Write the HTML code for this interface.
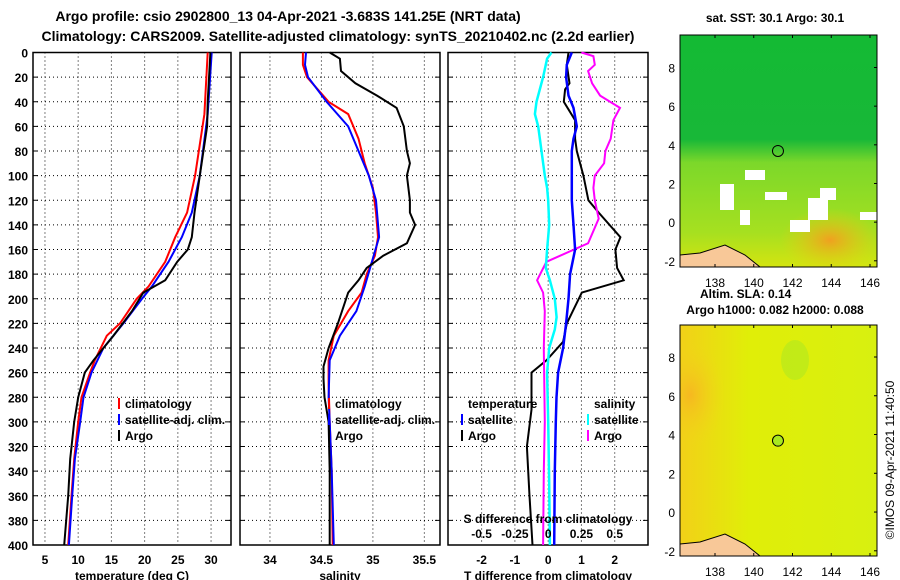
<!DOCTYPE html>
<html><head><meta charset="utf-8"><style>
body{margin:0;background:#fff}
svg{display:block;font-family:"Liberation Sans",Arial,sans-serif;font-weight:bold}
</style></head><body>
<svg id="c" width="900" height="580" viewBox="0 0 900 580">
<defs>
<linearGradient id="sstg" x1="0" y1="0" x2="0" y2="1">
<stop offset="0" stop-color="#14ba34"/><stop offset="0.45" stop-color="#18b838"/><stop offset="0.55" stop-color="#7cd82a"/><stop offset="0.85" stop-color="#a6e020"/><stop offset="1" stop-color="#d4e410"/></linearGradient>
<radialGradient id="orng" cx="0.5" cy="0.5" r="0.5"><stop offset="0" stop-color="#f0a020"/><stop offset="1" stop-color="#e8d010" stop-opacity="0"/></radialGradient>
<radialGradient id="orng2" cx="0.5" cy="0.5" r="0.5"><stop offset="0" stop-color="#f6b820"/><stop offset="1" stop-color="#f0d818" stop-opacity="0"/></radialGradient>
<linearGradient id="slag" x1="0" y1="0" x2="1" y2="0"><stop offset="0" stop-color="#f2d018"/><stop offset="0.35" stop-color="#e0ee08"/><stop offset="1" stop-color="#d8f010"/></linearGradient>
<clipPath id="clipTop"><rect x="680" y="35" width="197" height="232"/></clipPath>
<clipPath id="clipBot"><rect x="680" y="325" width="197" height="231"/></clipPath>
</defs>
<g font-size="14" text-anchor="middle">
<text x="288" y="21">Argo profile: csio 2902800_13 04-Apr-2021 -3.683S 141.25E (NRT data)</text>
<text x="338" y="41">Climatology: CARS2009. Satellite-adjusted climatology: synTS_20210402.nc (2.2d earlier)</text>
</g>
<g id="plots"></g>
<g id="maps"></g>
<text transform="translate(894,460) rotate(-90)" text-anchor="middle" font-size="12" font-weight="normal">©IMOS 09-Apr-2021 11:40:50</text>
</svg>
<script>
const tDepth=[0,50,100,130,150,170,190,200,220,230,250,260,280,300,330,360,400];
const tClim=[29.5,29.0,27.6,26.4,24.6,23.1,20.6,18.8,16.3,14.3,12.5,11.8,10.5,10.0,9.4,9.0,8.5];
const tSatDepth=[0,50,100,130,150,170,190,200,220,240,260,280,300,330,360,400];
const tSat=[30.1,29.5,28.3,27.1,25.6,23.6,21.1,19.6,16.8,13.8,12.0,10.8,10.3,9.5,9.1,8.6];
const tArgoDepth=[0,40,60,100,130,150,160,170,185,195,210,230,250,260,280,300,330,360,400];
const tArgo=[29.9,29.5,29.4,28.3,27.5,27.1,26.5,24.9,23.1,19.8,18.1,15.3,12.3,11.0,10.0,9.4,8.8,8.5,7.9];
const sClimDepth=[0,10,20,40,50,70,90,110,130,150,165,180,195,210,230,250,270,300,340,400];
const sClim=[34.32,34.32,34.36,34.57,34.76,34.86,34.92,35.0,35.03,35.05,35.02,34.94,34.89,34.76,34.62,34.57,34.57,34.58,34.6,34.61];
const sSatDepth=[0,10,20,40,60,80,100,120,150,170,190,210,230,250,280,300,340,400];
const sSat=[34.35,34.34,34.37,34.55,34.76,34.86,34.96,35.03,35.06,34.99,34.92,34.84,34.68,34.58,34.57,34.58,34.6,34.62];
const sArgoDepth=[0,5,15,25,35,45,60,80,90,100,120,130,140,155,165,175,185,195,220,240,255,265,280,300,340,400];
const sArgo=[34.58,34.68,34.69,34.83,35.04,35.23,35.3,35.33,35.36,35.33,35.36,35.36,35.41,35.33,35.1,34.94,34.86,34.76,34.66,34.57,34.52,34.52,34.53,34.57,34.58,34.58];
const dTSatDepth=[0,10,20,35,45,60,70,80,100,120,140,160,180,200,220,240,260,280,300,340,400];
const dTSat=[0.71,0.56,0.54,0.61,0.76,0.86,0.76,0.71,0.71,0.71,0.76,0.81,0.66,0.61,0.54,0.45,0.30,0.25,0.23,0.2,0.18];
const dTArgoDepth=[0,10,25,30,40,55,70,80,100,120,130,150,160,175,185,195,220,235,250,260,290,320,360,400];
const dTArgo=[0.61,0.56,0.64,0.51,0.47,0.81,0.81,0.86,1.06,1.21,1.52,2.17,2.02,2.07,2.27,1.01,0.56,0.45,-0.05,-0.5,-0.5,-0.64,-0.56,-0.47];
const dSSatDepth=[0,5,20,40,50,60,80,100,110,120,140,160,175,185,200,215,225,240,260,300,350,400];
const dSSat=[0.025,-0.008,-0.038,-0.088,-0.1,-0.075,-0.05,-0.025,-0.008,0,0.008,-0.008,-0.018,0.013,0.05,0.063,0.05,0.008,-0.008,0,0.008,0.013];
const dSArgoDepth=[0,3,10,15,25,35,45,55,70,80,90,100,110,120,135,155,170,185,195,210,240,300,340,400];
const dSArgo=[0.25,0.34,0.35,0.30,0.33,0.39,0.54,0.49,0.47,0.43,0.42,0.35,0.34,0.35,0.38,0.30,-0.013,-0.083,-0.038,-0.025,-0.033,-0.025,-0.033,-0.038];
const depthTicks=[0,20,40,60,80,100,120,140,160,180,200,220,240,260,280,300,320,340,360,380,400];
const tTicks=[5,10,15,20,25,30];
const sTicks=[34,34.5,35,35.5];
const dTicks=[-2,-1,0,1,2];
const dSTicks=[-0.5,-0.25,0,0.25,0.5];
const lonTicks=[138,140,142,144,146];
const latTicks=[-2,0,2,4,6,8];

const NS='http://www.w3.org/2000/svg';
function mk(tag,attrs,parent,txt){const e=document.createElementNS(NS,tag);for(const k in attrs)e.setAttribute(k,attrs[k]);if(txt!==undefined)e.textContent=txt;parent.appendChild(e);return e;}
const plots=document.getElementById('plots');
const YT=52.5,YB=545;
const Y=d=>YT+d*(YB-YT)/400;
const panels=[
 {x0:33,x1:231,v0:3.2,v1:33,name:'temperature',ticks:tTicks,lab:'temperature (deg C)'},
 {x0:240,x1:440,v0:33.709,v1:35.652,name:'salinity',ticks:sTicks,lab:'salinity'},
 {x0:448,x1:648,v0:-3.01,v1:3.0,name:'difference',ticks:dTicks,lab:'T difference from climatology'}];
panels.forEach(p=>{p.X=v=>p.x0+(v-p.v0)/(p.v1-p.v0)*(p.x1-p.x0);});
panels.forEach((p,i)=>{
 const g=mk('g',{},plots);
 
 
 depthTicks.forEach(d=>{if(d>0&&d<400){const l=mk('line',{x1:p.x0,x2:p.x1,y1:Y(d),y2:Y(d),stroke:'#000','stroke-dasharray':'1,3'},g);}
  mk('line',{x1:p.x0,x2:p.x0+5,y1:Y(d),y2:Y(d),stroke:'#000'},g);mk('line',{x1:p.x1-5,x2:p.x1,y1:Y(d),y2:Y(d),stroke:'#000'},g);});
 p.ticks.forEach(t=>{const x=p.X(t);const l=mk('line',{x1:x,x2:x,y1:YT,y2:YB,stroke:'#000','stroke-dasharray':'1,3'},g);
  const tx=mk('text',{x:x,y:564,'text-anchor':'middle','font-size':12},g,String(t));});
 const r=mk('rect',{x:p.x0,y:YT,width:p.x1-p.x0,height:YB-YT,fill:'none',stroke:'#000','stroke-width':1.5},g);
 
 const at=mk('text',{x:(p.x0+p.x1)/2,y:580,'text-anchor':'middle','font-size':12},g,p.lab);
 
});
depthTicks.forEach(d=>{const t=mk('text',{x:28,y:Y(d)+5,'text-anchor':'end','font-size':12},plots,String(d));});
function line(p,vals,depths,col,name,w){const pts=vals.map((v,i)=>p.X(v).toFixed(1)+','+Y(depths[i]).toFixed(1)).join(' ');
 const l=mk('polyline',{points:pts,fill:'none',stroke:col,'stroke-width':w||2},plots);
 }
const [P1,P2,P3]=panels;
line(P1,tClim,tDepth,'#f00','temperature-climatology-line');
line(P1,tSat,tSatDepth,'#00f','temperature-satellite-line');
line(P1,tArgo,tArgoDepth,'#000','temperature-argo-line');
line(P2,sClim,sClimDepth,'#f00','salinity-climatology-line');
line(P2,sSat,sSatDepth,'#00f','salinity-satellite-line');
line(P2,sArgo,sArgoDepth,'#000','salinity-argo-line');
line(P3,dTArgo,dTArgoDepth,'#000','t-diff-argo-line');
line(P3,dSArgo.map(v=>v*4),dSArgoDepth,'#f0f','s-diff-argo-line');
line(P3,dSSat.map(v=>v*4),dSSatDepth,'#0ff','s-diff-satellite-line',2.5);
line(P3,dTSat,dTSatDepth,'#00f','t-diff-satellite-line',2.5);
function legend(x,y,items,title){
 const g=mk('g',{'font-size':12},plots);
 
 if(title)mk('text',{x:x,y:y-16},g,title);
 items.forEach((it,i)=>{const e=mk('g',{},g);
  mk('rect',{x:x-7,y:y+i*16-10,width:2,height:11,fill:it[1]},e);mk('text',{x:x,y:y+i*16},e,it[0]);});
}
legend(125,408,[['climatology','#f00'],['satellite-adj. clim.','#00f'],['Argo','#000']]);
legend(335,408,[['climatology','#f00'],['satellite-adj. clim.','#00f'],['Argo','#000']]);
legend(468,424,[['satellite','#00f'],['Argo','#000']],'temperature');
legend(594,424,[['satellite','#0ff'],['Argo','#f0f']],'salinity');
const sd=mk('text',{x:548,y:523,'text-anchor':'middle','font-size':12},plots,'S difference from climatology');

dSTicks.forEach(t=>{const tx=mk('text',{x:P3.X(t*4),y:538,'text-anchor':'middle','font-size':12},plots,String(t));});

const maps=document.getElementById('maps');
function map(y0,y1,lat8,latm2,kind,name,clip){
 const g=mk('g',{},maps);
 const fillG=mk('g',{'clip-path':'url(#'+clip+')'},g);
 const x0=680,x1=877;const LX=l=>715+(l-138)*(870-715)/8;const LY=l=>lat8+(8-l)*(latm2-lat8)/10;
 let cf='none';
 if(kind==='sst'){
  mk('rect',{x:x0,y:y0,width:x1-x0,height:y1-y0,fill:'url(#sstg)'},fillG);
  mk('ellipse',{cx:830,cy:240,rx:50,ry:32,fill:'url(#orng)'},fillG);
  [[745,170,20,10],[720,184,14,26],[765,192,22,8],[808,198,20,22],[740,210,10,15],[790,220,20,12],[820,188,16,12],[860,212,17,8]].forEach(r=>mk('rect',{x:r[0],y:r[1],width:r[2],height:r[3],fill:'#fff'},fillG));
 } else {
  mk('rect',{x:x0,y:y0,width:x1-x0,height:y1-y0,fill:'url(#slag)'},fillG);
  mk('ellipse',{cx:690,cy:395,rx:35,ry:55,fill:'url(#orng2)'},fillG);
  mk('ellipse',{cx:795,cy:360,rx:14,ry:20,fill:'#b0e820',opacity:0.6},fillG);
  cf='#a8e820';
 }
 mk('path',{d:`M${x0} ${y1} L${x0} ${y1-12} L700 ${y1-14} L725 ${y1-22} L745 ${y1-12} L760 ${y1} Z`,fill:'#f8c898',stroke:'#000','stroke-width':1},fillG);
 const c=mk('circle',{cx:LX(141.25),cy:LY(3.683),r:5.5,fill:cf,stroke:'#000'},g);
 mk('rect',{x:x0,y:y0,width:x1-x0,height:y1-y0,fill:'none',stroke:'#000'},g);
 lonTicks.forEach(l=>{mk('line',{x1:LX(l),x2:LX(l),y1:y1,y2:y1-3,stroke:'#000'},g);mk('line',{x1:LX(l),x2:LX(l),y1:y0,y2:y0+3,stroke:'#000'},g);const t=mk('text',{x:LX(l),y:y1+20,'text-anchor':'middle','font-size':12,'font-weight':'normal'},g,String(l));});
 latTicks.forEach(l=>{mk('line',{x1:x1,x2:x1-3,y1:LY(l),y2:LY(l),stroke:'#000'},g);const t=mk('text',{x:675,y:LY(l)+5,'text-anchor':'end','font-size':12,'font-weight':'normal'},g,String(l));});
}
map(35,267,67.5,260.8,'sst','sst-map','clipTop');
map(325,556,357,550.8,'sla','sla-map','clipBot');
const mt=[[775,22,'sat. SST: 30.1 Argo: 30.1','middle'],[700,298,'Altim. SLA: 0.14','start'],[775,314,'Argo h1000: 0.082 h2000: 0.088','middle']];
mt.forEach(m=>{const t=mk('text',{x:m[0],y:m[1],'text-anchor':m[3],'font-size':12},maps,m[2]);});
</script>
</body></html>
